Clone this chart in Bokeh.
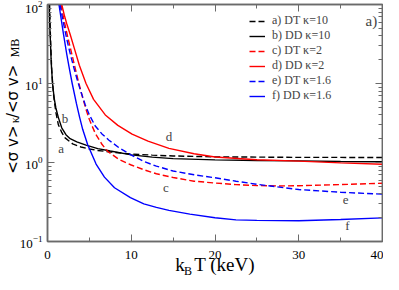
import math
from bokeh.plotting import figure
from bokeh.models import (Range1d, LinearAxis, LogAxis, SingleIntervalTicker, LogTicker, FixedTicker,
                          Label, Legend, LegendItem, CustomJSTickFormatter)
from bokeh.embed import file_html
from bokeh.resources import INLINE

# ---- data (kT in keV, ratio <sv>_k/<sv>_MB) ----
a_x = [0.25, 0.35, 0.5, 0.7, 1.0, 1.3, 1.7, 2.1, 3.0, 4.0, 5.0, 6.0, 7.5, 10, 12.5, 15, 20, 25, 30, 35, 40]
a_y = [100, 40, 15, 7.5, 4.3, 3.0, 2.4, 2.05, 1.72, 1.57, 1.48, 1.42, 1.36, 1.28, 1.24, 1.21, 1.18, 1.17, 1.16, 1.16, 1.155]

b_x = [0.2, 0.3, 0.45, 0.6, 0.8, 1.0, 1.3, 1.7, 2.2, 2.7, 3.5, 4.6, 6.0, 7.5, 10, 12.5, 15, 20, 25, 30, 35, 40]
b_y = [100, 45, 18, 10, 6.5, 4.9, 3.7, 2.75, 2.25, 2.0, 1.82, 1.66, 1.5, 1.4, 1.25, 1.17, 1.12, 1.08, 1.06, 1.05, 1.03, 1.02]

c_x = [1.6, 1.9, 2.2, 2.5, 2.85, 3.2, 3.7, 4.2, 4.6, 5.0, 5.7, 6.5, 7.2, 8.5, 10, 11.5, 13, 15, 17.5, 20, 22.5, 25, 27.5, 30, 35, 40]
c_y = [100, 69, 49, 35.5, 25, 17.4, 10.5, 6.6, 4.7, 3.5, 2.34, 1.70, 1.38, 1.10, 0.93, 0.81, 0.72, 0.645, 0.58, 0.55, 0.525, 0.51, 0.505, 0.508, 0.525, 0.547]

d_x = [1.7, 2.0, 2.3, 2.7, 3.24, 3.8, 4.6, 5.5, 6.9, 8.4, 10.1, 12, 14.5, 17.5, 20, 25, 30, 35, 40]
d_y = [100, 74, 57, 42, 27, 17, 10, 6.3, 4.0, 2.95, 2.29, 1.86, 1.51, 1.29, 1.175, 1.085, 1.04, 0.99, 0.95]

e_x = [1.5, 1.8, 2.1, 2.5, 2.8, 3.2, 3.6, 4.0, 4.5, 5.0, 5.7, 6.5, 7.3, 8.5, 9.9, 11.5, 13, 15, 17.5, 20, 22.5, 25, 30, 35, 40]
e_y = [100, 66, 46, 29.5, 21.9, 15.1, 10.7, 7.8, 5.4, 4.0, 2.9, 2.3, 1.93, 1.55, 1.26, 1.03, 0.9, 0.78, 0.7, 0.64, 0.58, 0.53, 0.455, 0.42, 0.397]

f_x = [1.37, 1.6, 1.88, 2.27, 2.6, 2.95, 3.45, 3.83, 4.2, 4.8, 5.8, 6.8, 8.0, 9.9, 11.5, 13, 14.5, 17, 20, 22.5, 25, 30, 35, 40]
f_y = [100, 69, 44, 24.5, 15.7, 10, 5.6, 3.76, 2.63, 1.68, 0.955, 0.653, 0.479, 0.359, 0.30, 0.27, 0.248, 0.222, 0.20, 0.188, 0.185, 0.183, 0.19, 0.199]

legend_labels = ["a) DT \u03ba=10", "b) DD \u03ba=10", "c) DT \u03ba=2", "d) DD \u03ba=2", "e) DT \u03ba=1.6", "f) DD \u03ba=1.6"]
curve_letters = ["a", "b", "c", "d", "e", "f"]
letter_x = [1.64, 2.1, 14.15, 14.5, 35.6, 35.8]
letter_y = [1.52, 3.64, 0.487, 2.11, 0.333, 0.158]

x_ticks_interval = 10

SERIF = "Liberation Serif"
SANS = "DejaVu Sans"
AX = "#6a6a6a"
EN = "\u2002"

p = figure(width=383, height=280, output_backend="svg", toolbar_location=None,
           x_range=Range1d(0, 40), y_range=Range1d(0.1, 100), y_axis_type="log",
           min_border_left=41, min_border_right=1, min_border_top=4, min_border_bottom=35)
p.grid.visible = False
p.outline_line_color = AX
p.outline_line_width = 1.5
p.background_fill_color = "white"
p.border_fill_color = "white"

def style_axis(ax):
    ax.axis_line_color = AX
    ax.axis_line_width = 1.5
    ax.major_tick_line_color = AX
    ax.minor_tick_line_color = AX
    ax.major_tick_in = 7
    ax.major_tick_out = 0
    ax.minor_tick_in = 4
    ax.minor_tick_out = 0
    ax.major_label_text_font = SERIF
    ax.major_label_text_font_size = "13px"
    ax.major_label_text_color = "black"
    ax.major_label_standoff = 5
    ax.axis_label_text_font_style = "normal"
    ax.axis_label_text_color = "black"

def label_only_axis(ax, text, font, size, standoff):
    ax.ticker = FixedTicker(ticks=[], minor_ticks=[])
    ax.axis_line_color = None
    ax.major_tick_line_color = None
    ax.minor_tick_line_color = None
    ax.axis_label = text
    ax.axis_label_text_font = font
    ax.axis_label_text_font_size = size
    ax.axis_label_text_font_style = "normal"
    ax.axis_label_text_color = "black"
    ax.axis_label_standoff = standoff

# bottom: main text on the inner axis, subscript on an outer axis
p.xaxis.ticker = SingleIntervalTicker(interval=x_ticks_interval, num_minor_ticks=2)
xa = p.xaxis[0]
style_axis(xa)
xa.major_label_standoff = 9
xa.axis_label = "k" + EN + "T (keV)"
xa.axis_label_text_font = SERIF
xa.axis_label_text_font_size = "19px"
xa.axis_label_standoff = -8
xsub = LinearAxis()
label_only_axis(xsub, "B" + EN * 9, SERIF, "12px", -14)
p.add_layout(xsub, "below")

# left: subscripts on the inner axis, main text on an outer axis
p.yaxis.ticker = LogTicker(num_minor_ticks=10)
ya = p.yaxis[0]
style_axis(ya)
ya.axis_label = EN * 14 + "\u03ba" + EN * 10 + "MB"
ya.axis_label_text_font = SERIF
ya.axis_label_text_font_size = "12px"
ya.axis_label_standoff = -5
ymain = LogAxis()
label_only_axis(ymain, EN + "<\u03c3 v>" + EN + "/<\u03c3 v>", SANS, "15px", -17)
p.add_layout(ymain, "left")

blank = CustomJSTickFormatter(code="return ''")
top = LinearAxis(ticker=SingleIntervalTicker(interval=x_ticks_interval, num_minor_ticks=2), formatter=blank)
style_axis(top)
top.major_label_standoff = 0
p.add_layout(top, "above")
right = LogAxis(ticker=LogTicker(num_minor_ticks=10), formatter=blank)
style_axis(right)
right.major_label_standoff = 0
p.add_layout(right, "right")

lw = 1.4
r_a = p.line(a_x, a_y, line_color="black", line_width=lw, line_dash="6 3")
r_b = p.line(b_x, b_y, line_color="black", line_width=lw)
r_c = p.line(c_x, c_y, line_color="#ff0000", line_width=lw, line_dash="6 3")
r_d = p.line(d_x, d_y, line_color="#ff0000", line_width=lw)
r_e = p.line(e_x, e_y, line_color="#0000ff", line_width=lw, line_dash="6 3")
r_f = p.line(f_x, f_y, line_color="#0000ff", line_width=lw)

rends = [r_a, r_b, r_c, r_d, r_e, r_f]
legend = Legend(items=[LegendItem(label=l, renderers=[r]) for l, r in zip(legend_labels, rends)],
                location=(202, 138), padding=0, margin=0, spacing=-6,
                label_height=14, glyph_height=14, glyph_width=16, label_standoff=7,
                label_text_font=SERIF, label_text_font_size="12px",
                border_line_color=None, background_fill_alpha=0)
p.add_layout(legend)

for t, xx, yy in zip(curve_letters, letter_x, letter_y):
    p.add_layout(Label(x=xx, y=yy, text=t, text_font=SERIF, text_font_size="13px",
                       text_align="center", text_baseline="middle"))

p.add_layout(Label(x=318, y=221, x_units="screen", y_units="screen", text="a)",
                   text_font=SERIF, text_font_size="15px", text_baseline="alphabetic"))

open("out.html", "w").write(file_html(p, INLINE))
